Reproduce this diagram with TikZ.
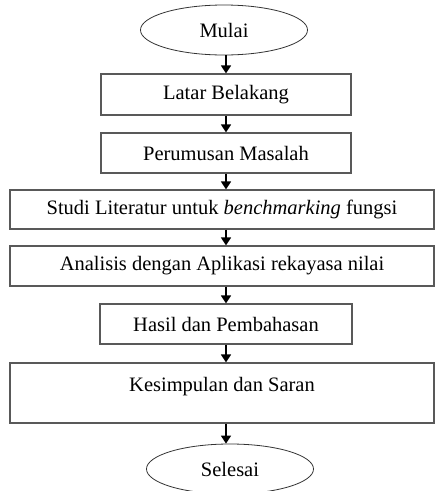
\documentclass[tikz,border=0pt]{standalone}
\usepackage{fontspec}
\setmainfont{Liberation Serif}
\usetikzlibrary{shapes.geometric,arrows.meta}

\begin{document}
\begin{tikzpicture}[x=1pt, y=-1pt,
  font=\fontsize{20.5}{24}\selectfont,
  terminal/.style={draw=black!80, ellipse, line width=0.8pt, minimum width=167pt, minimum height=50pt, inner sep=0pt},
  kotak/.style={draw=black!65, line width=1.2pt, rectangle, minimum width=250pt, minimum height=40pt, inner sep=0pt},
  kotaklebar/.style={kotak, minimum width=424pt},
  panah/.style={-{Triangle[width=10pt,length=8pt]}, line width=1.6pt}]
\useasboundingbox (0,0) rectangle (436,491);
%\draw [help lines] (0,0) grid (436,491);
\node [terminal] (mulai) at (224,30) {Mulai};
\node [kotak, minimum height=41pt] (latar) at (226,94.5) {Latar Belakang};
\node [kotak] (rumusan) at (226,153) {Perumusan Masalah};
\node [kotaklebar, minimum height=39pt] (studi) at (222,209.5) {Studi Literatur untuk \textit{benchmarking} fungsi};
\node [kotaklebar] (analisis) at (222,266) {Analisis dengan Aplikasi rekayasa nilai};
\node [kotak, minimum width=252pt] (hasil) at (226,324) {Hasil dan Pembahasan};
\node [kotaklebar, minimum height=60pt, text depth=17pt] (simpulan) at (222,393) {Kesimpulan dan Saran};
\node [terminal] (selesai) at (230,469) {Selesai};
\draw [panah] (mulai.south -| latar.north) -- (latar.north);
\draw [panah] (latar.south) -- (rumusan.north);
\draw [panah] (rumusan.south) -- (studi.north -| rumusan.south);
\draw [panah] (studi.south -| rumusan.south) -- (analisis.north -| rumusan.south);
\draw [panah] (analisis.south -| hasil.north) -- (hasil.north);
\draw [panah] (hasil.south) -- (simpulan.north -| hasil.south);
\draw [panah] (simpulan.south -| hasil.south) -- (selesai.north -| hasil.south);
\end{tikzpicture}
\end{document}
